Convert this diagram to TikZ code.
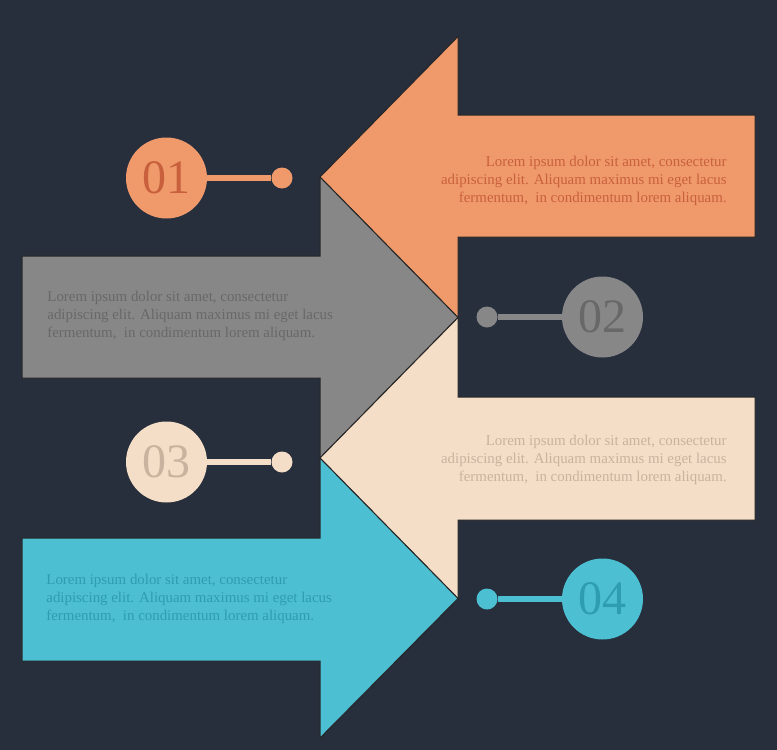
\documentclass[tikz,border=0pt]{standalone}
\usepackage{fontspec}
\setmainfont{Liberation Serif}
\usepackage{tikz}

\definecolor{bgnavy}{HTML}{272E3C}
\definecolor{orangefill}{HTML}{F09A6C}
\definecolor{orangetext}{HTML}{C8603E}
\definecolor{grayfill}{HTML}{878787}
\definecolor{graytext}{HTML}{686868}
\definecolor{creamfill}{HTML}{F5DEC7}
\definecolor{creamtext}{HTML}{C9B39F}
\definecolor{bluefill}{HTML}{4CBFD2}
\definecolor{bluetext}{HTML}{2E9DB2}

\tikzset{
    arrowbody/.style={fill=#1, draw=black!85, line width=0.5pt, line join=miter},
    loremtext/.style={font=\fontsize{7.45}{9}\selectfont, inner sep=0pt, text=#1},
    numcircle/.style={circle, minimum size=40.5pt, inner sep=0pt, fill=#1, font=\fontsize{24}{24}\selectfont},
    numdot/.style={circle, minimum size=10.5pt, inner sep=0pt, fill=#1},
    numline/.style={line width=3pt, draw=#1},
}

\begin{document}
\begin{tikzpicture}[x=0.5pt, y=-0.5pt]
    \useasboundingbox [fill=bgnavy] (0, 0) rectangle (777, 750);

    \draw [arrowbody=orangefill] (320, 177) -- (458, 36.5) -- (458, 115) -- (755, 115) -- (755, 237) -- (458, 237) -- (458, 317.5) -- cycle;
    \draw [arrowbody=grayfill] (458, 317.5) -- (320, 177) -- (320, 256) -- (22, 256) -- (22, 378) -- (320, 378) -- (320, 458) -- cycle;
    \draw [arrowbody=creamfill] (320, 458) -- (458, 317.5) -- (458, 397) -- (755, 397) -- (755, 520) -- (458, 520) -- (458, 598.5) -- cycle;
    \draw [arrowbody=bluefill] (458, 598.5) -- (320, 458) -- (320, 538) -- (22, 538) -- (22, 661) -- (320, 661) -- (320, 738) -- cycle;

    \node [loremtext=orangetext, align=right, anchor=east] (text_one) at (727, 181)
        {Lorem ipsum dolor sit amet, consectetur\\ adipiscing elit. Aliquam maximus mi eget lacus\\ fermentum,\ \ in condimentum lorem aliquam.};
    \node [loremtext=graytext, align=left, anchor=west] (text_two) at (47, 316)
        {Lorem ipsum dolor sit amet, consectetur\\ adipiscing elit. Aliquam maximus mi eget lacus\\ fermentum,\ \ in condimentum lorem aliquam.};
    \node [loremtext=creamtext, align=right, anchor=east] (text_three) at (727, 460)
        {Lorem ipsum dolor sit amet, consectetur\\ adipiscing elit. Aliquam maximus mi eget lacus\\ fermentum,\ \ in condimentum lorem aliquam.};
    \node [loremtext=bluetext, align=left, anchor=west] (text_four) at (46, 599)
        {Lorem ipsum dolor sit amet, consectetur\\ adipiscing elit. Aliquam maximus mi eget lacus\\ fermentum,\ \ in condimentum lorem aliquam.};

    \node [numcircle=orangefill, text=orangetext] (num_one) at (166.5, 178) {01};
    \node [numdot=orangefill] (dot_one) at ([shift={(115.5, 0)}]num_one.center) {};
    \draw [numline=orangefill] (num_one) -- (dot_one);

    \node [numcircle=grayfill, text=graytext] (num_two) at (602.5, 317) {02};
    \node [numdot=grayfill] (dot_two) at ([shift={(-115.5, 0)}]num_two.center) {};
    \draw [numline=grayfill] (num_two) -- (dot_two);

    \node [numcircle=creamfill, text=creamtext] (num_three) at (166.5, 462) {03};
    \node [numdot=creamfill] (dot_three) at ([shift={(115.5, 0)}]num_three.center) {};
    \draw [numline=creamfill] (num_three) -- (dot_three);

    \node [numcircle=bluefill, text=bluetext] (num_four) at (602.5, 599) {04};
    \node [numdot=bluefill] (dot_four) at ([shift={(-115.5, 0)}]num_four.center) {};
    \draw [numline=bluefill] (num_four) -- (dot_four);

\end{tikzpicture}
\end{document}
